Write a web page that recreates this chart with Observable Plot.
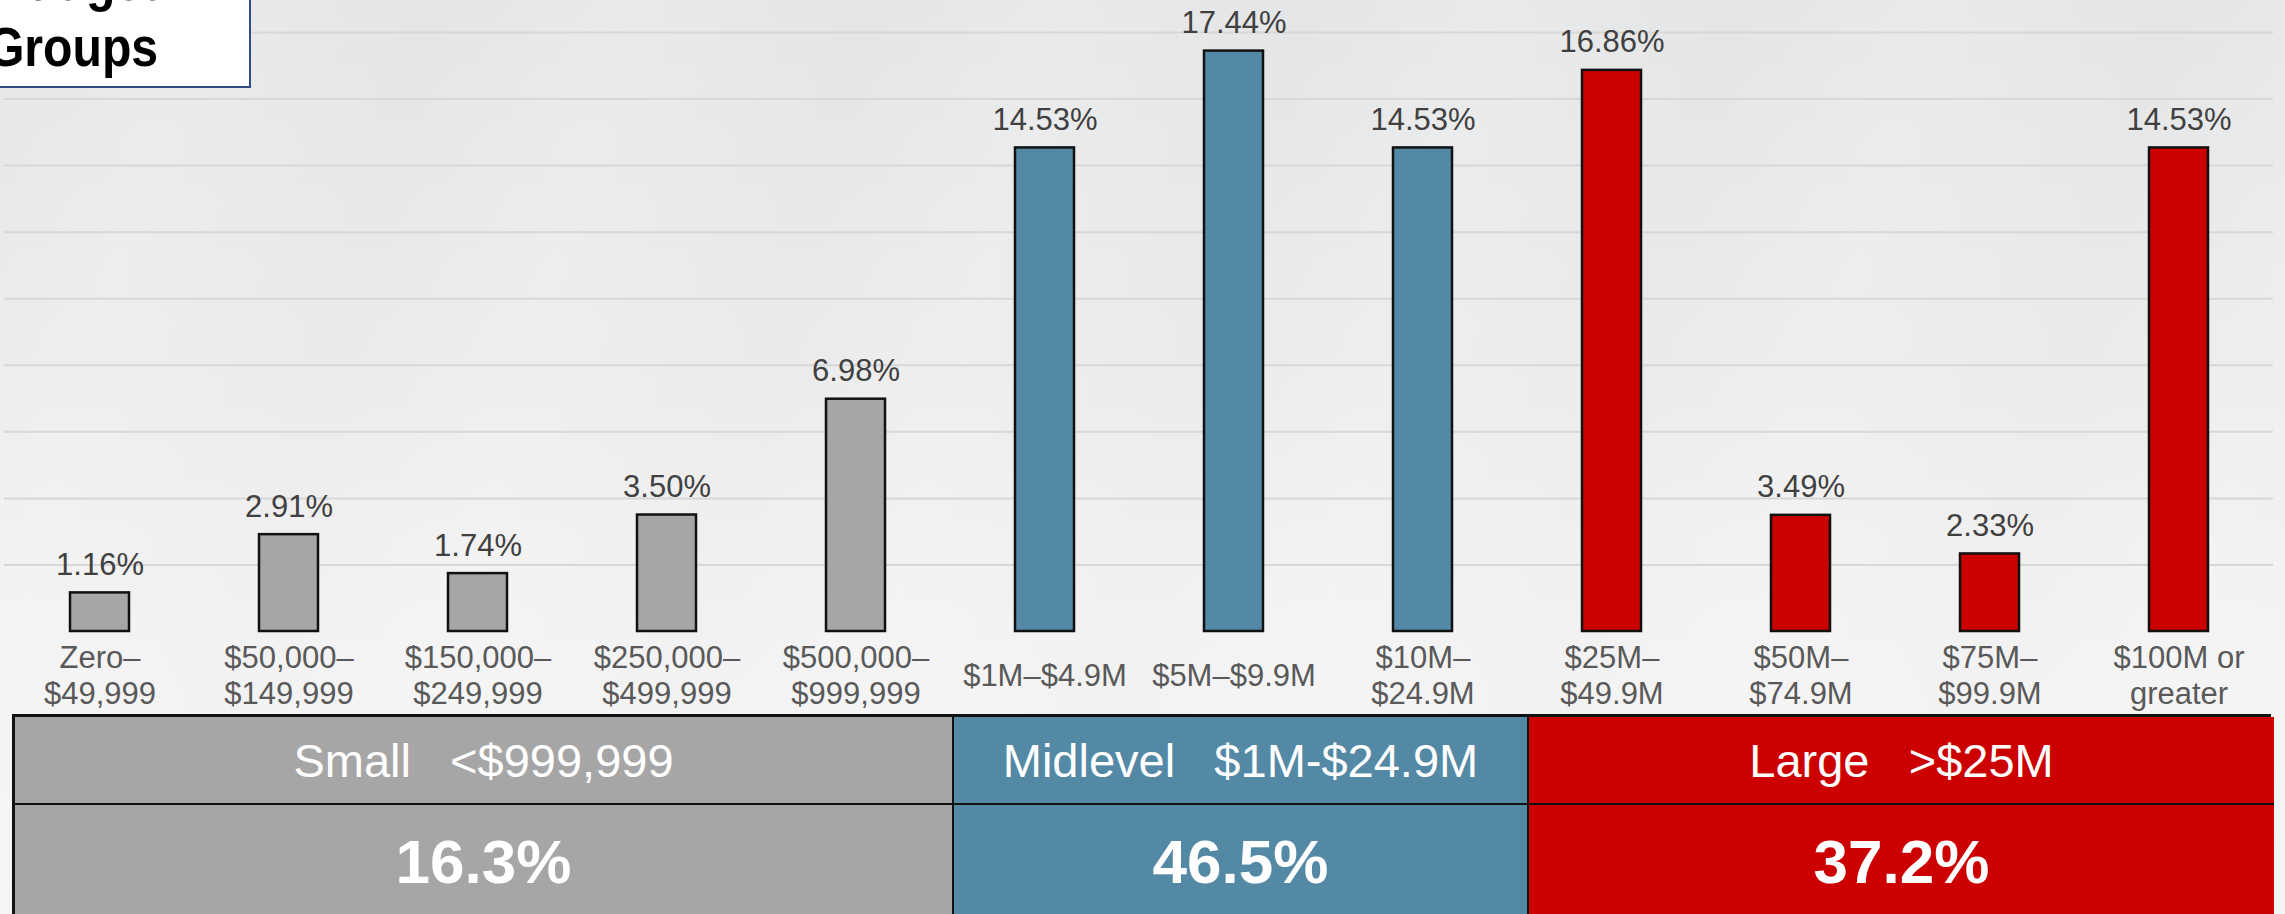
<!DOCTYPE html>
<html>
<head>
<meta charset="utf-8">
<script src="https://cdn.jsdelivr.net/npm/d3@7"></script>
<script src="https://cdn.jsdelivr.net/npm/@observablehq/plot@0.6"></script>
<style>
html, body { margin: 0; padding: 0; width: 2285px; height: 914px; overflow: hidden; }
body {
  position: relative;
  font-family: "Liberation Sans", Arial, sans-serif;
  background:
    repeating-linear-gradient(105deg, rgba(255,255,255,0) 0px, rgba(255,255,255,0.18) 180px, rgba(255,255,255,0) 420px),
    linear-gradient(180deg, #e4e5e6 0%, #ebebec 40%, #f2f2f2 70%, #f4f4f4 100%);
}
#chart { position: absolute; left: 0; top: 0; }
#titlebox {
  position: absolute; left: -134px; top: -54px; width: 381px; height: 138px;
  background: #ffffff; border: 2px solid #2f4d7e; z-index: 5;
}
#titletext {
  position: absolute; right: 91px; top: 0;
  font-weight: bold; font-size: 56px; line-height: 66px; color: #000;
  text-align: right; white-space: pre;
  transform: scaleX(0.86); transform-origin: right center;
}
#table {
  position: absolute; left: 12px; top: 714px; width: 2259px; height: 200px;
  display: grid; grid-template-rows: 88px 112px;
  box-sizing: border-box; border-top: 3px solid #111; border-left: 3px solid #111; border-right: 2px solid #111;
  z-index: 4;
}
.cell {
  box-sizing: border-box; display: flex; align-items: center; justify-content: center;
  color: #fff; white-space: pre; border-right: 2px solid #111; border-bottom: 2px solid #111;
}
.cell.last { border-right: none; }
.r1 { font-size: 47px; }
.r2 { font-size: 62px; font-weight: bold; border-bottom: none; }
</style>
</head>
<body>
<div id="titlebox"><div id="titletext"></div></div>
<div id="chart"></div>
<div id="table"></div>
<script>
const titleLines = ["Budget", "Groups"];

const categories = [
  "Zero–\n$49,999", "$50,000–\n$149,999", "$150,000–\n$249,999", "$250,000–\n$499,999",
  "$500,000–\n$999,999", "$1M–$4.9M", "$5M–$9.9M", "$10M–\n$24.9M",
  "$25M–\n$49.9M", "$50M–\n$74.9M", "$75M–\n$99.9M", "$100M or\ngreater"
];
const values = [1.16, 2.91, 1.74, 3.50, 6.98, 14.53, 17.44, 14.53, 16.86, 3.49, 2.33, 14.53];
const categoryGroup = ["Small", "Small", "Small", "Small", "Small", "Midlevel", "Midlevel", "Midlevel", "Large", "Large", "Large", "Large"];

const groups = ["Small", "Midlevel", "Large"];
const groupRanges = ["<$999,999", "$1M-$24.9M", ">$25M"];
const groupShares = ["16.3%", "46.5%", "37.2%"];
const groupColors = ["#a6a6a6", "#5489a6", "#cc0000"];

const gridTicks = [2, 4, 6, 8, 10, 12, 14, 16, 18];

const data = categories.map((c, i) => ({cat: c, value: values[i], group: categoryGroup[i]}));
const fmt = d3.format(".2f");

const chart = Plot.plot({
  width: 2285,
  height: 714,
  marginLeft: 4,
  marginRight: 12,
  marginTop: 0,
  marginBottom: 83,
  style: {background: "transparent", fontFamily: "'Liberation Sans', Arial, sans-serif"},
  x: {domain: categories, paddingInner: 0.688, paddingOuter: 0.344, axis: null},
  y: {domain: [0, 18.96], axis: null},
  color: {domain: groups, range: groupColors},
  marks: [
    Plot.ruleY(gridTicks, {stroke: "#d7d7d7", strokeWidth: 2}),
    Plot.barY(data, {x: "cat", y: "value", fill: "group", stroke: "#111", strokeWidth: 2.5}),
    Plot.text(data, {x: "cat", y: "value", text: d => fmt(d.value) + "%", lineAnchor: "bottom", dy: -18, fontSize: 31, fill: "#404040"}),
    Plot.text(data, {x: "cat", y: () => 0, text: "cat", lineAnchor: "middle", lineHeight: 1.16, dy: 43, fontSize: 31, fill: "#595959"})
  ]
});
document.getElementById("chart").appendChild(chart);

document.getElementById("titletext").textContent = titleLines.join("\n");

const table = document.getElementById("table");
const colWidths = ["939px", "575px", "745px"];
table.style.gridTemplateColumns = colWidths.join(" ");
groups.forEach((g, i) => {
  const c = document.createElement("div");
  c.className = "cell r1" + (i === groups.length - 1 ? " last" : "");
  c.style.background = groupColors[i];
  c.style.gridRow = "1"; c.style.gridColumn = String(i + 1);
  c.textContent = g + "   " + groupRanges[i];
  table.appendChild(c);
});
groups.forEach((g, i) => {
  const c = document.createElement("div");
  c.className = "cell r2" + (i === groups.length - 1 ? " last" : "");
  c.style.background = groupColors[i];
  c.style.gridRow = "2"; c.style.gridColumn = String(i + 1);
  c.textContent = groupShares[i];
  table.appendChild(c);
});
</script>
</body>
</html>
